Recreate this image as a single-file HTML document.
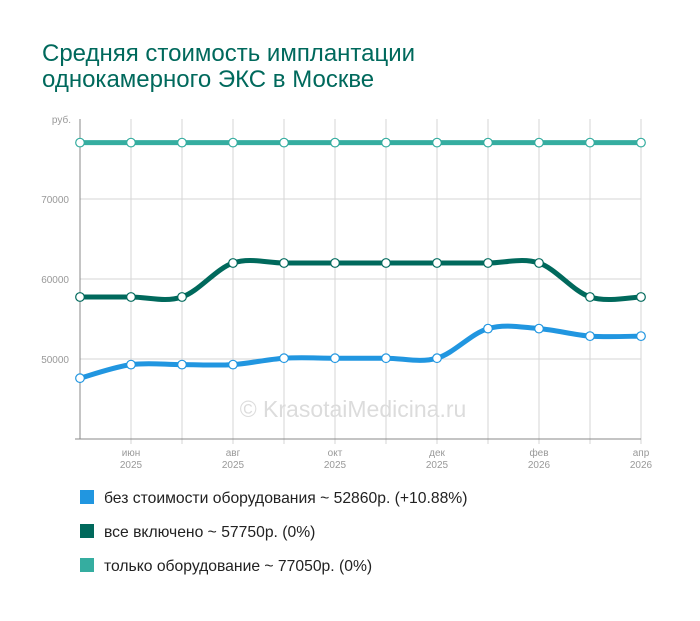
<!DOCTYPE html>
<html><head><meta charset="utf-8"><style>
body{margin:0;background:#fff;width:700px;height:616px;overflow:hidden;font-family:"Liberation Sans",sans-serif}
</style></head><body>
<svg id="s" width="700" height="616" xmlns="http://www.w3.org/2000/svg" font-family="Liberation Sans, sans-serif">
<text x="42" y="61" font-size="24" fill="#00695c">Средняя стоимость имплантации</text>
<text x="42" y="87" font-size="24" fill="#00695c">однокамерного ЭКС в Москве</text>
<g id="grid" stroke="#d6d6d6" stroke-width="1"></g>
<g fill="#999" font-size="10" text-anchor="end">
<text x="71" y="123">руб.</text>
<text x="69" y="203">70000</text>
<text x="69" y="283">60000</text>
<text x="69" y="363">50000</text>
</g>
<g fill="#999" font-size="10" text-anchor="middle">
<text x="131" y="456">июн</text><text x="131" y="468">2025</text>
<text x="233" y="456">авг</text><text x="233" y="468">2025</text>
<text x="335" y="456">окт</text><text x="335" y="468">2025</text>
<text x="437" y="456">дек</text><text x="437" y="468">2025</text>
<text x="539" y="456">фев</text><text x="539" y="468">2026</text>
<text x="641" y="456">апр</text><text x="641" y="468">2026</text>
</g>
<text x="353" y="417" font-size="23" fill="#dcdcdc" text-anchor="middle">© KrasotaiMedicina.ru</text>
<path d="M80,119V439H641M75,439H80" fill="none" stroke="#888" stroke-width="1"/>
<g id="series"></g>
<rect x="80" y="490" width="14" height="14" fill="#2196e0"/>
<text x="104" y="503" font-size="15.7" fill="#222">без стоимости оборудования ~ 52860р. (+10.88%)</text>
<rect x="80" y="524" width="14" height="14" fill="#00695c"/>
<text x="104" y="537" font-size="15.7" fill="#222">все включено ~ 57750р. (0%)</text>
<rect x="80" y="558" width="14" height="14" fill="#35ada0"/>
<text x="104" y="571" font-size="15.7" fill="#222">только оборудование ~ 77050р. (0%)</text>
</svg>
<script>
var xs=[];for(var i=0;i<12;i++)xs.push(80+i*51);
var g=document.getElementById("grid"),h="";
for(i=1;i<12;i++)h+='<line x1="'+xs[i]+'" y1="119" x2="'+xs[i]+'" y2="444"/>';
[199,279,359].forEach(function(y){h+='<line x1="80" y1="'+y+'" x2="641" y2="'+y+'"/>';});
g.innerHTML=h;
function Y(v){return 199-(v-70000)*0.008;}
var data=[
["#35ada0",[77050,77050,77050,77050,77050,77050,77050,77050,77050,77050,77050,77050]],
["#00695c",[57750,57750,57750,62000,62000,62000,62000,62000,62000,62000,57750,57750]],
["#2196e0",[47600,49300,49300,49300,50100,50100,50100,50100,53800,53800,52860,52860]]];
var out="";
data.forEach(function(d){
 var p=d[1].map(function(v,i){return [xs[i],Y(v)];});
 var s="M"+p[0][0]+","+p[0][1];
 for(var i=0;i<p.length-1;i++){
  var p0=p[Math.max(0,i-1)],p1=p[i],p2=p[i+1],p3=p[Math.min(p.length-1,i+2)];
  var c1=[p1[0]+(p2[0]-p0[0])/6,p1[1]+(p2[1]-p0[1])/6];
  var c2=[p2[0]-(p3[0]-p1[0])/6,p2[1]-(p3[1]-p1[1])/6];
  s+=" C"+c1[0]+","+c1[1]+" "+c2[0]+","+c2[1]+" "+p2[0]+","+p2[1];
 }
 out+='<path d="'+s+'" fill="none" stroke="'+d[0]+'" stroke-width="5"/>';
 p.forEach(function(q){out+='<circle cx="'+q[0]+'" cy="'+q[1]+'" r="4.3" fill="#fff" stroke="'+d[0]+'" stroke-width="1.2"/>';});
});
document.getElementById("series").innerHTML=out;
</script>
</body></html>
